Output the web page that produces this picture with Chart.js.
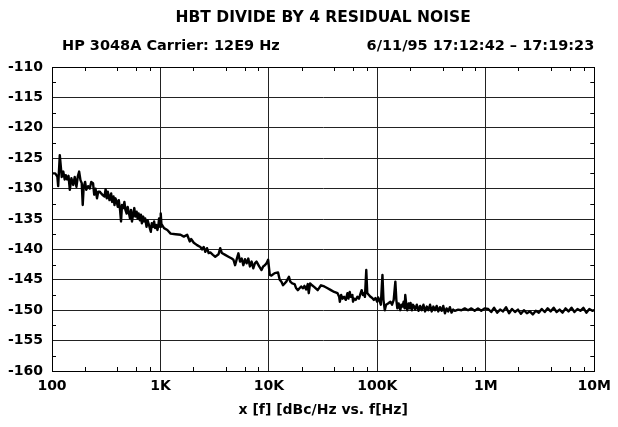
<!DOCTYPE html>
<html>
<head>
<meta charset="utf-8">
<script src="https://cdn.jsdelivr.net/npm/chart.js@4.4.0/dist/chart.umd.min.js"></script>
<style>
  html, body { margin: 0; padding: 0; background: #fff; }
</style>
</head>
<body>
<canvas id="noise" width="618" height="427"></canvas>
<script>
var chartTitle = 'HBT DIVIDE BY 4 RESIDUAL NOISE';
var subLeft = 'HP 3048A Carrier: 12E9 Hz';
var subRight = '6/11/95 17:12:42 \u2013 17:19:23';
var xTitle = 'x [f] [dBc/Hz vs. f[Hz]';

var xTickValues = [100, 1e3, 1e4, 1e5, 1e6, 1e7];
var xTickLabels = ['100', '1K', '10K', '100K', '1M', '10M'];
var minorSteps = [2, 4, 6, 8];
var yTickValues = [-160, -155, -150, -145, -140, -135, -130, -125, -120, -115, -110];

// 100 Hz - 1 kHz
var freqA = [100,107,112,114,118,123,127,131,134,138,142,146,151,157,162,168,173,178,183,188,
  192,196,202,207,215,223,230,239,245,252,260,267,
  275,284,295,305,312,320,327,339,351,358,369,377,385,396,404,413,424,433,442,455,
  465,475,488,498,509,524,535,546,562,574,586,603,615,629,646,660,674,693,708,723,
  744,760,776,798,815,832,856,874,893,918,938,958,971,992];
var dbA = [-127.5,-127.5,-128.0,-129.6,-124.5,-128.1,-127.2,-128.5,-127.8,-128.5,
  -127.9,-130.2,-128.3,-129.4,-128.1,-129.7,-128.0,-127.2,-128.6,-129.1,
  -132.7,-129.7,-128.9,-130.2,-129.6,-130.0,-128.9,-129.1,-131.0,-130.0,
  -131.6,-130.5,
  -130.5,-130.8,-131.1,-131.3,-130.1,-131.6,-130.5,-131.9,-130.8,-132.2,
  -131.3,-132.7,-131.6,-132.2,-133.0,-131.9,-133.5,-135.4,-132.7,-133.2,
  -132.2,-133.5,-134.1,-133.0,-133.8,-134.9,-133.5,-135.4,-134.1,-133.2,
  -134.6,-133.8,-134.9,-134.1,-135.2,-134.3,-135.7,-134.6,-135.4,-134.9,
  -136.3,-135.2,-135.7,-136.5,-137.1,-135.7,-136.3,-135.4,-136.5,-136.0,
  -136.8,-136.0,-134.9,-136.3];

// 1 kHz - 10 kHz
var freqB = [1006,1020,1079,1157,1241,1379,1532,1643,1763,1865,1918,2028,2175,2334,2417,2503,2593,2685,2782,2881,
  3046,3200,3432,3556,3683,3951,4236,4545,4708,4876,5050,5231,5416,5610,5810,6018,6230,6452,6685,6924,
  7171,7427,7691,8136,8545,8851,9168,9493,9833];
var dbB = [-134.1,-135.8,-136.5,-136.8,-137.4,-137.5,-137.6,-137.9,-137.6,-138.7,
  -138.3,-138.9,-139.3,-139.6,-140.0,-139.6,-140.4,-139.8,-140.6,-140.5,
  -140.9,-141.2,-140.8,-139.8,-140.6,-140.9,-141.2,-141.5,-141.7,-142.6,
  -141.6,-140.65,-142.0,-141.5,-142.6,-141.6,-142.3,-141.5,-142.8,-142.0,
  -143.1,-142.3,-142.0,-142.8,-143.4,-142.8,-142.6,-142.3,-141.7];

// 10 kHz - 100 kHz
var freqC = [10183,10546,11312,12138,12573,13016,13487,13964,14460,14982,15300,15735,16406,17234,17848,18488,19150,19830,20540,21273,
  22029,22820,23303,23966,24999,26260,28165,30214,32407,34761,37283,39994,42905,44435,45068,46345,47663,49367,51128,52945,
  54078,55611,56797,58823,59655,60932,63110,65366,67696,70114,71614,73640,75214,76808,78995,80686,83560,86536,89640,92835,
  96140,99586];
var dbC = [-144.2,-144.3,-143.9,-143.8,-145.0,-145.3,-145.9,-145.6,-145.3,-144.8,
  -144.5,-145.3,-145.6,-145.7,-146.4,-146.7,-146.4,-146.1,-146.4,-146.0,
  -146.6,-145.7,-147.2,-145.6,-145.9,-146.2,-146.7,-145.9,-146.1,-146.4,
  -146.7,-147.0,-147.2,-147.8,-148.6,-147.5,-148.1,-147.8,-148.3,-147.2,
  -148.1,-147.0,-147.8,-147.5,-148.6,-148.1,-148.3,-147.8,-148.1,-147.2,
  -146.7,-147.5,-147.2,-147.8,-143.4,-147.2,-147.5,-147.8,-148.0,-148.3,
  -148.0,-148.6];

// 100 kHz - 1 MHz
var freqD = [101690,104590,107570,109850,111400,113780,117010,120330,125500,131830,136550,141420,146460,149590,152760,157110,162720,166180,170920,174540,
  178270,180800,184630,188550,193910,198060,202250,208000,212420,216960,223140,231100,239370,247900,256730,265900,275420,285240,295440,305970,
  316880,328200,339920,352050,364620,377650,391130,405100,419560,434510,450050,466130,482740,500000,517840,555480,595870,639060,685700,735440,
  788860,846220,907590,973600];
var dbD = [-147.9,-148.4,-149.1,-146.1,-144.2,-148.3,-150.0,-149.1,-148.9,-148.6,
  -149.1,-148.3,-145.3,-148.3,-149.7,-148.9,-150.0,-149.1,-149.4,-148.6,
  -149.7,-147.5,-149.1,-150.0,-148.9,-149.7,-148.8,-150.0,-149.1,-149.3,
  -149.9,-149.1,-150.1,-149.3,-150.0,-149.1,-150.2,-149.4,-150.0,-149.1,
  -150.2,-149.4,-150.0,-149.3,-150.2,-149.5,-150.1,-149.3,-150.5,-149.7,
  -150.2,-149.5,-150.4,-149.9,-150.1,-149.9,-150.0,-149.7,-150.0,-149.7,
  -150.1,-149.7,-150.1,-149.7];

// 1 MHz - 10 MHz
var freqE = [1052000,1121000,1193000,1272000,1354000,1442000,1537000,1637000,1743000,1857000,
  1978000,2107000,2244000,2390000,2546000,2712000,2888000,3077000,3277000,3491000,
  3718000,3961000,4219000,4494000,4787000,5099000,5431000,5786000,6163000,6565000,
  6993000,7448000,7934000,8451000,9002000,9588000,10000000];
var dbE = [-149.8,-150.3,-149.6,-150.4,-149.9,-150.2,-149.5,-150.5,-149.8,-150.3,
  -149.9,-150.6,-150.0,-150.5,-150.2,-150.7,-150.1,-150.4,-149.8,-150.3,
  -149.7,-150.2,-149.6,-150.3,-149.9,-150.4,-149.7,-150.2,-149.6,-150.3,
  -149.8,-150.1,-149.6,-150.4,-149.8,-150.1,-150.0];

function pairUp(fs, ds) {
  return fs.map(function (f, i) { return { x: f, y: ds[i] }; });
}
var points = [].concat(pairUp(freqA, dbA), pairUp(freqB, dbB), pairUp(freqC, dbC),
  pairUp(freqD, dbD), pairUp(freqE, dbE));

var FONT = '"DejaVu Sans", sans-serif';
Chart.defaults.font.family = FONT;
Chart.defaults.font.weight = 'bold';
Chart.defaults.color = '#000';

// header texts, box outline and the small inside ticks
var decorations = {
  id: 'decorations',
  afterDraw: function (chart) {
    var ctx = chart.ctx, area = chart.chartArea;
    var xs = chart.scales.x, ys = chart.scales.y;
    ctx.save();
    ctx.strokeStyle = '#000';
    ctx.lineWidth = 1;
    ctx.beginPath();
    xTickValues.slice(0, -1).forEach(function (dec) {
      minorSteps.forEach(function (m) {
        var px = Math.round(xs.getPixelForValue(dec * m)) + 0.5;
        ctx.moveTo(px, area.top); ctx.lineTo(px, area.top + 4);
        ctx.moveTo(px, area.bottom); ctx.lineTo(px, area.bottom - 4);
      });
    });
    yTickValues.slice(0, -1).forEach(function (v) {
      var py = Math.round(ys.getPixelForValue(v + 2.5)) + 0.5;
      ctx.moveTo(area.left, py); ctx.lineTo(area.left + 4, py);
      ctx.moveTo(area.right, py); ctx.lineTo(area.right - 4, py);
    });
    ctx.stroke();
    ctx.strokeRect(Math.round(area.left) + 0.5, Math.round(area.top) + 0.5,
      Math.round(area.right - area.left), Math.round(area.bottom - area.top));

    ctx.fillStyle = '#000';
    ctx.textBaseline = 'middle';
    ctx.font = 'bold 15.5px ' + FONT;
    ctx.textAlign = 'center';
    ctx.fillText(chartTitle, (area.left + area.right) / 2, 18);
    ctx.font = 'bold 14.5px ' + FONT;
    ctx.textAlign = 'left';
    ctx.fillText(subLeft, 62, 46);
    ctx.textAlign = 'right';
    ctx.fillText(subRight, area.right, 46);
    ctx.restore();
  }
};

new Chart(document.getElementById('noise'), {
  type: 'line',
  data: {
    datasets: [{
      data: points,
      borderColor: '#000',
      borderWidth: 2.4,
      borderJoinStyle: 'round',
      pointRadius: 0,
      tension: 0,
      fill: false
    }]
  },
  options: {
    responsive: false,
    animation: false,
    events: [],
    layout: { padding: { top: 67, right: 19, bottom: 0, left: 0 } },
    plugins: { legend: { display: false }, tooltip: { enabled: false } },
    scales: {
      x: {
        type: 'logarithmic',
        min: 100,
        max: 1e7,
        afterBuildTicks: function (s) {
          s.ticks = xTickValues.map(function (v) { return { value: v }; });
        },
        afterFit: function (s) { s.height = 56; },
        ticks: {
          autoSkip: false,
          maxRotation: 0,
          padding: 7,
          font: { size: 14, weight: 'bold' },
          callback: function (v) {
            var i = xTickValues.indexOf(v);
            return i < 0 ? '' : xTickLabels[i];
          }
        },
        grid: { color: '#222', lineWidth: 1, drawTicks: false },
        border: { color: '#000', width: 1 },
        title: {
          display: true,
          text: xTitle,
          font: { size: 14, weight: 'bold' },
          padding: { top: 0, bottom: 8 }
        }
      },
      y: {
        min: -160,
        max: -110,
        afterBuildTicks: function (s) {
          s.ticks = yTickValues.map(function (v) { return { value: v }; });
        },
        afterFit: function (s) { s.width = 52; },
        ticks: { padding: 9, font: { size: 14, weight: 'bold' } },
        grid: { color: '#222', lineWidth: 1, drawTicks: false },
        border: { color: '#000', width: 1 }
      }
    }
  },
  plugins: [decorations]
});
</script>
</body>
</html>
